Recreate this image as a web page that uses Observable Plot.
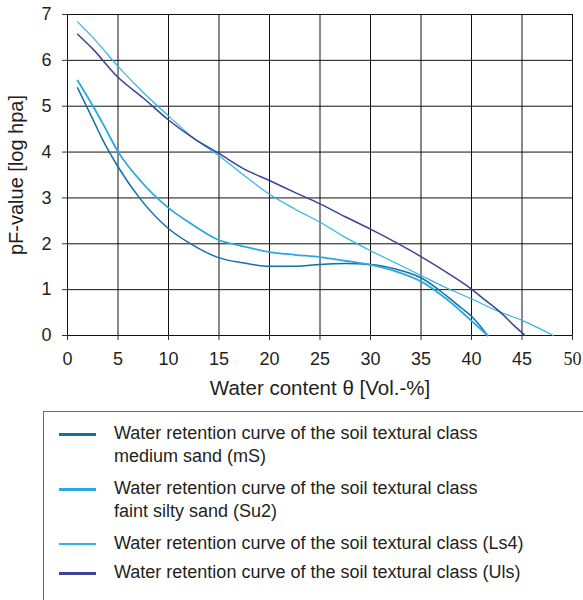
<!DOCTYPE html>
<html>
<head>
<meta charset="utf-8">
<script src="https://cdn.jsdelivr.net/npm/d3@7"></script>
<script src="https://cdn.jsdelivr.net/npm/@observablehq/plot@0.6"></script>
<style>
  html, body { margin: 0; padding: 0; background: #fff; overflow: hidden; }
  body { font-family: "Liberation Sans", Arial, Helvetica, sans-serif; color: #231f20; }
  #chart { position: absolute; left: 0; top: 0; }
  #legend {
    position: absolute; left: 43px; top: 411px; width: 620px; height: 230px;
    box-sizing: border-box; border: 1.5px solid #6b6b6b; padding-top: 10px;
  }
  .entry { display: flex; align-items: flex-start; margin-bottom: 9px; }
  .entry:nth-child(3) { margin-bottom: 6px; }
  .swatch { width: 37px; margin-left: 15px; margin-right: 18px; margin-top: 11px; flex: none; }
  .label { font-size: 18px; line-height: 23px; }
</style>
</head>
<body>
<div id="chart"></div>
<div id="legend"></div>
<script>
// Water retention curves: water content θ [Vol.-%] against pF-value [log hPa]
const mS_theta = [1, 2.5, 3.5, 5, 7.2, 9.9, 12.5, 14.8, 17.5, 20, 22.5, 25, 27.5, 30, 32.5, 35, 37.5, 39, 40, 41, 41.6];
const mS_pF    = [5.40, 4.72, 4.26, 3.68, 2.98, 2.35, 1.96, 1.71, 1.58, 1.51, 1.51, 1.55, 1.57, 1.55, 1.45, 1.26, 0.87, 0.60, 0.42, 0.17, 0];

const Su2_theta = [1, 2.5, 3.5, 5, 7.2, 9.9, 12.5, 14.8, 17.5, 20, 22.5, 25, 27.5, 30, 32.5, 35, 37.5, 40, 41, 41.6];
const Su2_pF    = [5.56, 5.01, 4.62, 4.01, 3.38, 2.80, 2.40, 2.10, 1.94, 1.82, 1.76, 1.71, 1.63, 1.54, 1.40, 1.18, 0.80, 0.32, 0.12, 0];

const Ls4_theta = [1, 2.5, 5, 7.5, 10, 12.5, 15, 17.5, 20, 22.5, 25, 27.5, 30, 32.5, 35, 37.5, 40, 42.5, 45, 48.1];
const Ls4_pF    = [6.84, 6.50, 5.87, 5.30, 4.79, 4.30, 3.92, 3.49, 3.08, 2.76, 2.47, 2.14, 1.85, 1.58, 1.31, 1.04, 0.80, 0.54, 0.33, 0];

const Uls_theta = [1, 2.5, 5, 7.5, 10, 12.5, 15, 17.5, 20, 22.5, 25, 27.5, 30, 32.5, 35, 37.5, 40, 41.2, 42.9, 44.2, 45.3];
const Uls_pF    = [6.57, 6.25, 5.63, 5.18, 4.70, 4.30, 3.97, 3.63, 3.38, 3.12, 2.87, 2.59, 2.32, 2.03, 1.72, 1.38, 1.01, 0.80, 0.50, 0.22, 0];

const seriesKeys = ["mS", "Su2", "Ls4", "Uls"];
const seriesLabels = [
  "Water retention curve of the soil textural class<br>medium sand (mS)",
  "Water retention curve of the soil textural class<br>faint silty sand (Su2)",
  "Water retention curve of the soil textural class (Ls4)",
  "Water retention curve of the soil textural class (Uls)"
];

const xTicks = [0, 5, 10, 15, 20, 25, 30, 35, 40, 45];
const xTicksEnd = [50];
const yTicks = [0, 1, 2, 3, 4, 5, 6, 7];

// styling
const seriesColors = ["#1170a8", "#2aa9e1", "#2db6ea", "#3b4494"];
const seriesWidths = [1.5, 1.8, 1.2, 1.5];

const curves = {
  mS:  mS_theta.map((t, i) => ({theta: t, pF: mS_pF[i]})),
  Su2: Su2_theta.map((t, i) => ({theta: t, pF: Su2_pF[i]})),
  Ls4: Ls4_theta.map((t, i) => ({theta: t, pF: Ls4_pF[i]})),
  Uls: Uls_theta.map((t, i) => ({theta: t, pF: Uls_pF[i]}))
};

const font = "Liberation Sans, Arial, Helvetica, sans-serif";

const chart = Plot.plot({
  width: 583,
  height: 400,
  marginTop: 14,
  marginBottom: 65,
  marginLeft: 67,
  marginRight: 11,
  style: {fontFamily: font, fontSize: "18px", color: "#231f20", background: "#fff"},
  x: {domain: [0, 50]},
  y: {domain: [0, 7]},
  color: {domain: seriesKeys, range: seriesColors},
  marks: [
    Plot.gridX([...xTicks, ...xTicksEnd], {stroke: "#111", strokeOpacity: 1, strokeWidth: 1}),
    Plot.gridY(yTicks, {stroke: "#111", strokeOpacity: 1, strokeWidth: 1}),
    Plot.axisX(xTicks, {tickSize: 5, tickPadding: 12, label: null, fontSize: 18, stroke: "#333"}),
    Plot.axisX(xTicksEnd, {tickSize: 5, tickPadding: 12, label: null, fontSize: 18, stroke: "#333", ariaLabel: "x-axis end"}),
    Plot.axisX([], {tickSize: 0, label: "Water content θ [Vol.-%]", labelAnchor: "center", labelArrow: "none", labelOffset: 59, fontSize: 20.5}),
    Plot.axisY(yTicks, {tickSize: 5, tickPadding: 11, label: null, fontSize: 18, stroke: "#333"}),
    Plot.axisY([], {tickSize: 0, label: "pF-value [log hpa]", labelAnchor: "center", labelArrow: "none", labelOffset: 59, fontSize: 20}),
    ...seriesKeys.map((k, i) => Plot.line(curves[k], {
      x: "theta", y: "pF", stroke: () => k, strokeWidth: seriesWidths[i], curve: "monotone-x"
    }))
  ]
});
document.getElementById("chart").append(chart);

// the last x tick label is set in a serif face
chart.querySelectorAll("text").forEach((t) => {
  if (t.textContent === String(xTicksEnd[0])) {
    t.setAttribute("font-family", "Liberation Serif, Times New Roman, serif");
    t.style.fontFamily = "Liberation Serif, Times New Roman, serif";
  }
});

// legend below the chart
const legend = document.getElementById("legend");
seriesKeys.forEach((k, i) => {
  const row = document.createElement("div");
  row.className = "entry";
  const sw = document.createElement("div");
  sw.className = "swatch";
  sw.style.height = (seriesWidths[i] + 1) + "px";
  sw.style.background = seriesColors[i];
  const lab = document.createElement("div");
  lab.className = "label";
  lab.innerHTML = seriesLabels[i];
  row.append(sw, lab);
  legend.append(row);
});
</script>
</body>
</html>
